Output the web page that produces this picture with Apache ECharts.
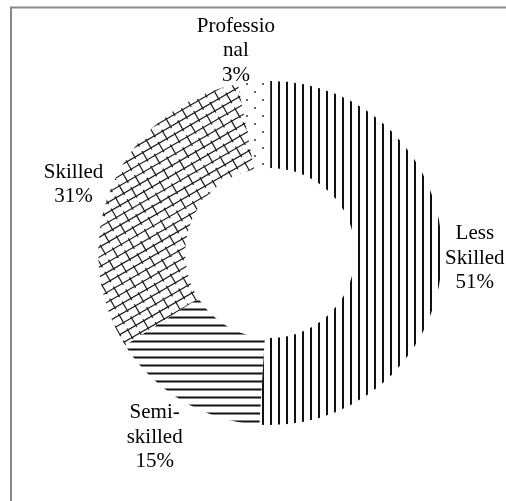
<!DOCTYPE html>
<html>
<head>
<meta charset="utf-8">
<script src="https://cdn.jsdelivr.net/npm/echarts@6/dist/echarts.min.js"></script>
<style>
html,body{margin:0;padding:0;background:#fff;}
#chart{width:506px;height:501px;}
</style>
</head>
<body>
<div id="chart"></div>
<script>
// ---- data ----
var categories = ['Less Skilled', 'Semi-skilled', 'Skilled', 'Professional'];
var values = [51, 15, 31, 3];
var labelNames = ['Less\nSkilled', 'Semi-\nskilled', 'Skilled', 'Professio\nnal'];

// ---- label offsets (style) ----
var labelDx = [-2, 5, -4, 26];
var labelDy = [0, 36, 0, -31];

function mk(w, h) { var c = document.createElement('canvas'); c.width = w; c.height = h; return c; }

function verticalLines() {
  var c = mk(8, 8), g = c.getContext('2d');
  g.fillStyle = '#111'; g.fillRect(6, 0, 2, 8);
  return c;
}
function horizontalLines() {
  var c = mk(8, 8), g = c.getContext('2d');
  g.fillStyle = '#111'; g.fillRect(0, 4.5, 8, 2);
  return c;
}
function dots() {
  var c = mk(16, 16), g = c.getContext('2d');
  g.fillStyle = '#333';
  g.beginPath(); g.arc(7, 4, 1, 0, Math.PI * 2); g.fill();
  g.beginPath(); g.arc(15, 12, 1, 0, Math.PI * 2); g.fill();
  return c;
}
function bricks() {
  var c = mk(512, 512), g = c.getContext('2d');
  g.fillStyle = '#fff'; g.fillRect(0, 0, 512, 512);
  g.strokeStyle = '#1a1a1a'; g.lineWidth = 1.2;
  g.translate(256, 256);
  g.rotate(-30 * Math.PI / 180);
  var rowH = 8.6, brickL = 18.5, ext = 1.8;
  for (var k = -60; k <= 60; k++) {
    var y = k * rowH;
    g.beginPath(); g.moveTo(-600, y); g.lineTo(600, y); g.stroke();
    var off = (k % 2 === 0) ? 0 : brickL / 2;
    for (var j = -50; j <= 50; j++) {
      var x = off + j * brickL;
      g.beginPath(); g.moveTo(x, y - ext); g.lineTo(x, y + rowH + ext); g.stroke();
    }
  }
  return c;
}

var patterns = [verticalLines(), horizontalLines(), bricks(), dots()];

var seriesData = categories.map(function (name, i) {
  return {
    name: name,
    value: values[i],
    itemStyle: { color: { image: patterns[i], repeat: 'repeat' } }
  };
});

var chart = echarts.init(document.getElementById('chart'), null, { renderer: 'canvas' });
chart.setOption({
  animation: false,
  backgroundColor: '#fff',
  graphic: [{
    type: 'rect',
    shape: { x: 11, y: 7.5, width: 700, height: 700 },
    style: { fill: 'none', stroke: '#898989', lineWidth: 2 },
    silent: true
  }],
  series: [{
    type: 'pie',
    center: ['53.4%', '50.5%'],
    radius: [85, 172],
    startAngle: 90,
    clockwise: true,
    avoidLabelOverlap: false,
    silent: true,
    emphasis: { disabled: true },
    itemStyle: { borderWidth: 0 },
    label: {
      show: true,
      position: 'outside',
      fontFamily: 'Liberation Serif',
      fontSize: 21,
      lineHeight: 24.5,
      color: '#000',
      formatter: function (p) { return labelNames[p.dataIndex] + '\n' + p.value + '%'; }
    },
    labelLine: { show: false, length: 0, length2: 0 },
    labelLayout: function (p) {
      var r = p.labelRect, i = p.dataIndex;
      return {
        x: r.x + r.width / 2 + labelDx[i],
        y: r.y + r.height / 2 + labelDy[i],
        align: 'center',
        verticalAlign: 'middle'
      };
    },
    data: seriesData
  }]
});
</script>
</body>
</html>
